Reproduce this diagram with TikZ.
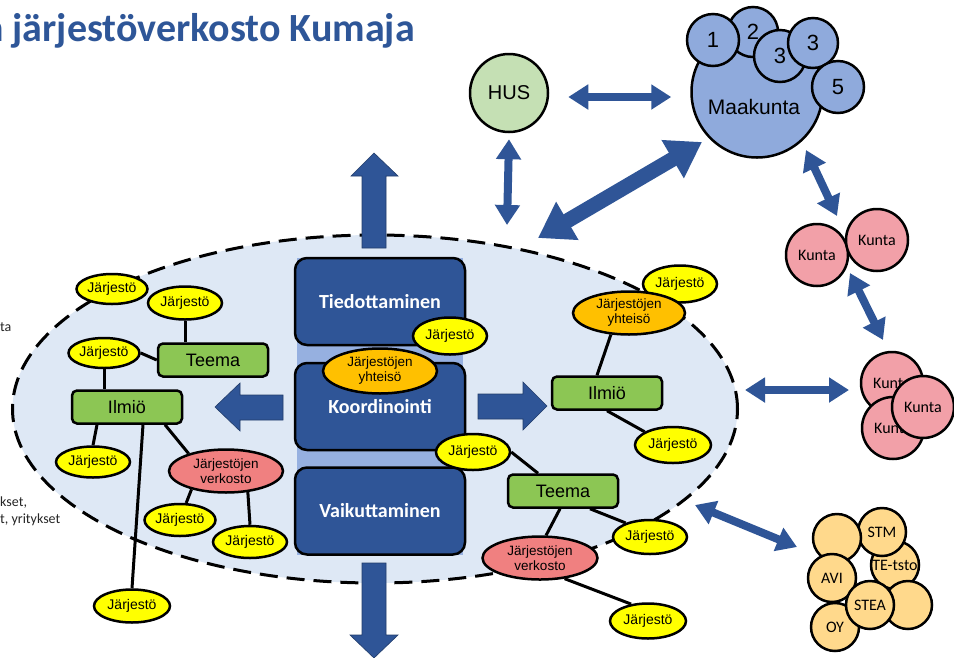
\documentclass[tikz,border=0pt]{standalone}
\usepackage{fontspec}
\setmainfont{Liberation Sans}
\newfontfamily\calib{Carlito}
\usetikzlibrary{shapes.geometric, arrows.meta}
\definecolor{dblue}{RGB}{47,85,151}
\definecolor{titleblue}{RGB}{46,86,152}
\definecolor{ellfill}{RGB}{222,232,245}
\definecolor{colfill}{RGB}{150,176,224}
\definecolor{jyellow}{RGB}{255,255,0}
\definecolor{jorange}{RGB}{255,192,0}
\definecolor{jred}{RGB}{240,128,128}
\definecolor{jgreen}{RGB}{140,198,84}
\definecolor{mblue}{RGB}{143,170,220}
\definecolor{husgreen}{RGB}{197,224,180}
\definecolor{kpink}{RGB}{242,160,168}
\definecolor{ktan}{RGB}{255,217,140}
\pgfdeclarelayer{back}
\pgfdeclarelayer{edges}
\pgfsetlayers{back,edges,main}
\tikzset{
 jar/.style={ellipse, draw, line width=2.5pt, fill=jyellow, minimum width=74pt, minimum height=33pt, inner sep=0pt, font=\fontsize{14}{15}\selectfont},
 yht/.style={ellipse, draw, line width=2.5pt, fill=jorange, minimum width=114pt, minimum height=45pt, inner sep=0pt, align=center, font=\fontsize{13.5}{15}\selectfont},
 verk/.style={yht, fill=jred},
 gbox/.style={draw, line width=2.5pt, rounded corners=5pt, fill=jgreen, minimum width=110pt, minimum height=33pt, inner sep=0pt, font=\fontsize{18}{20}\selectfont},
 bbox/.style={draw, line width=2.5pt, rounded corners=12pt, fill=dblue, text=white, minimum width=170pt, minimum height=87pt, font=\calib\bfseries\fontsize{20}{22}\selectfont},
 link/.style={line width=3pt},
 dar/.style={draw=dblue, line width=8pt, {Triangle[length=20pt,width=24pt]}-{Triangle[length=20pt,width=24pt]}},
 bigdar/.style={draw=dblue, line width=15pt, {Triangle[length=34pt,width=42pt]}-{Triangle[length=34pt,width=42pt]}},
 blk/.style={fill=dblue, draw=dblue!70!black, line width=0.6pt},
 mk/.style={circle, draw, line width=2.5pt, fill=mblue, inner sep=0pt, font=\fontsize{22}{24}\selectfont},
 kun/.style={circle, draw, line width=2.5pt, fill=kpink, minimum size=62pt, inner sep=0pt, font=\calib\fontsize{16}{18}\selectfont},
 tan/.style={circle, draw, line width=2.5pt, fill=ktan, minimum size=48pt, inner sep=0pt, font=\calib\fontsize{16}{18}\selectfont},
 frag/.style={anchor=west, inner sep=0pt, font=\calib\fontsize{14}{16}\selectfont, text=black!85},
}
\begin{document}
\begin{tikzpicture}[x=1pt,y=-1pt]
\useasboundingbox (0,0) rectangle (954,657);
\clip (0,0) rectangle (954,657);

% network ellipse and central column
\begin{pgfonlayer}{back}
\fill[white] (0,0) rectangle (954,657);
\node[ellipse, draw, fill=ellfill, line width=3pt, dash pattern=on 18pt off 9pt, minimum width=725pt, minimum height=348pt, inner sep=0pt] (net) at (375,409) {};
\fill[colfill] (297,258) rectangle (463,555);
\end{pgfonlayer}

% title and cut-off side text
\node[anchor=base east, inner sep=0pt, text=titleblue, font=\calib\bfseries\fontsize{40}{44}\selectfont] (title) at (415,41) {n järjestöverkosto Kumaja};
\node[frag] (f1) at (0,327) {ta};
\node[frag] (f2) at (0,503) {kset,};
\node[frag] (f3) at (0,520) {t, yritykset};

\node[bbox] (tied) at (380,301.5) {Tiedottaminen};
\node[bbox] (koord) at (380,406.5) {Koordinointi};
\node[bbox] (vaik) at (380,511) {Vaikuttaminen};

% block arrows
\fill[blk] (362,248) -- (362,176) -- (351,176) -- (374,153) -- (398,176) -- (386,176) -- (386,248) -- cycle;
\fill[blk] (362,563) -- (386,563) -- (386,635) -- (398,635) -- (374,658) -- (350,635) -- (362,635) -- cycle;
\fill[blk] (283,395) -- (240,395) -- (240,383) -- (215,407) -- (240,431) -- (240,420) -- (283,420) -- cycle;
\fill[blk] (478,394) -- (523,394) -- (523,382) -- (547,406) -- (523,430) -- (523,419) -- (478,419) -- cycle;

% centre nodes
\node[yht] (cyht) at (380,371) {Järjestöjen\\yhteisö};
\node[jar, minimum height=37pt] (cj1) at (450,336) {Järjestö};
\node[jar, minimum height=36pt] (cj2) at (473,452) {Järjestö};

% left cluster
\node[jar, minimum height=30pt, minimum width=71pt] (lj1) at (112,289) {Järjestö};
\node[jar] (lj2) at (185,303) {Järjestö};
\node[jar, minimum height=30pt, minimum width=71pt] (lj3) at (104,353) {Järjestö};
\node[gbox] (lteema) at (213,360) {Teema};
\node[gbox] (lilm) at (127,407) {Ilmiö};
\node[jar, minimum height=31pt] (lj4) at (93,462) {Järjestö};
\node[verk, minimum height=43pt] (lverk) at (226,471) {Järjestöjen\\verkosto};
\node[jar, minimum height=32pt, minimum width=71pt] (lj5) at (180,520) {Järjestö};
\node[jar, minimum height=32pt] (lj6) at (250,542) {Järjestö};
\node[jar, minimum height=33pt, minimum width=76pt] (lj7) at (132,606) {Järjestö};

% right cluster
\node[jar, minimum height=37pt] (rj1) at (680,284) {Järjestö};
\node[yht, minimum width=112pt, minimum height=43pt] (ryht) at (629,313) {Järjestöjen\\yhteisö};
\node[gbox] (rilm) at (607,393) {Ilmiö};
\node[jar, minimum height=36pt, minimum width=76pt] (rj2) at (673,445) {Järjestö};
\node[gbox] (rteema) at (563,491) {Teema};
\node[jar, minimum height=34pt] (rj3) at (650,537) {Järjestö};
\node[verk, minimum width=115pt, minimum height=43pt] (rverk) at (540,558) {Järjestöjen\\verkosto};
\node[jar, minimum height=35pt, minimum width=76pt] (rj4) at (648,621) {Järjestö};

% links
\begin{pgfonlayer}{edges}
\draw[link] (lj2.south) -- (lj2.south |- lteema.north);
\draw[link] (lj3.east) -- (lteema.west);
\draw[link] (lj3.south) -- (lj3.south |- lilm.north);
\draw[link] ([xshift=-30pt]lilm.south) -- (lj4.north);
\draw[link] ([xshift=16pt]lilm.south) -- (lj7.north);
\draw[link] ([xshift=38pt]lilm.south) -- (lverk.155);
\draw[link] (lverk.208) -- (lj5.70);
\draw[link] (lverk.316) -- (lj6.north);
\draw[link] (ryht.230) -- ([xshift=-10pt]rilm.north);
\draw[link] (rilm.south) -- (rj2.155);
\draw[link] (cj2.east) -- ([xshift=-25pt]rteema.north);
\draw[link] ([xshift=-3pt]rteema.south) -- (rverk.75);
\draw[link] ([xshift=27pt]rteema.south) -- (rj3.150);
\draw[link] (rverk.320) -- (rj4.135);
\end{pgfonlayer}

% HUS and Maakunta
\node[circle, draw, line width=2.5pt, fill=husgreen, minimum width=78pt, minimum height=69pt, inner sep=0pt, font=\fontsize{20}{22}\selectfont] (hus) at (509,93) {HUS};
\node[mk, minimum size=131pt] (maak) at (757,92) {};
\node[inner sep=0pt, font=\fontsize{21}{23}\selectfont] (maaklbl) at (754,107) {Maakunta};
\node[mk, minimum size=50pt] (m2) at (753,32) {2};
\node[mk, minimum size=52pt] (m1) at (713,40) {1};
\node[mk, minimum size=52pt] (m3a) at (780,56) {3};
\node[mk, minimum size=50pt] (m3b) at (813,43) {3};
\node[mk, minimum size=52pt] (m5) at (838,87) {5};

% Kunta
\node[kun] (k1) at (817,255) {Kunta};
\node[kun] (k2) at (877,240) {Kunta};
\node[kun] (k3) at (892,383) {Kunta};
\node[kun] (k4) at (893,428) {Kunta};
\node[kun] (k5) at (923,407) {Kunta};

% ministries cluster
\node[tan] (tte) at (895,565) {TE-tsto};
\node[tan] (tstm) at (882,532) {STM};
\node[tan] (tbl) at (837,538) {};
\node[tan] (tavi) at (832,578) {AVI};
\node[tan] (toy) at (835,627) {OY};
\node[tan] (tbr) at (908,605) {};
\node[tan] (tstea) at (870,605) {STEA};

% double arrows
\coordinate (husdown) at (507,225);
\coordinate (netne) at (538,238);
\coordinate (maaksw) at (702,142);
\coordinate (maakse) at (806,150);
\coordinate (kuntatop) at (837,216);
\coordinate (kuntamid) at (850,273);
\coordinate (kuntalow) at (883,340);
\coordinate (neteast) at (745,390);
\coordinate (kuntawest) at (849,390);
\coordinate (netse) at (695,505);
\coordinate (tanwest) at (797,547);
\draw[dar] ([xshift=19pt,yshift=-4pt]hus.east) -- ([xshift=-19pt,yshift=-4pt]hus.east -| maak.west);
\draw[dar] ([yshift=-6pt]hus.south) -- (husdown);
\draw[bigdar] (netne) -- (maaksw);
\draw[dar] (maakse) -- (kuntatop);
\draw[dar] (kuntamid) -- (kuntalow);
\draw[dar] (neteast) -- (kuntawest);
\draw[dar] (netse) -- (tanwest);
\end{tikzpicture}
\end{document}
